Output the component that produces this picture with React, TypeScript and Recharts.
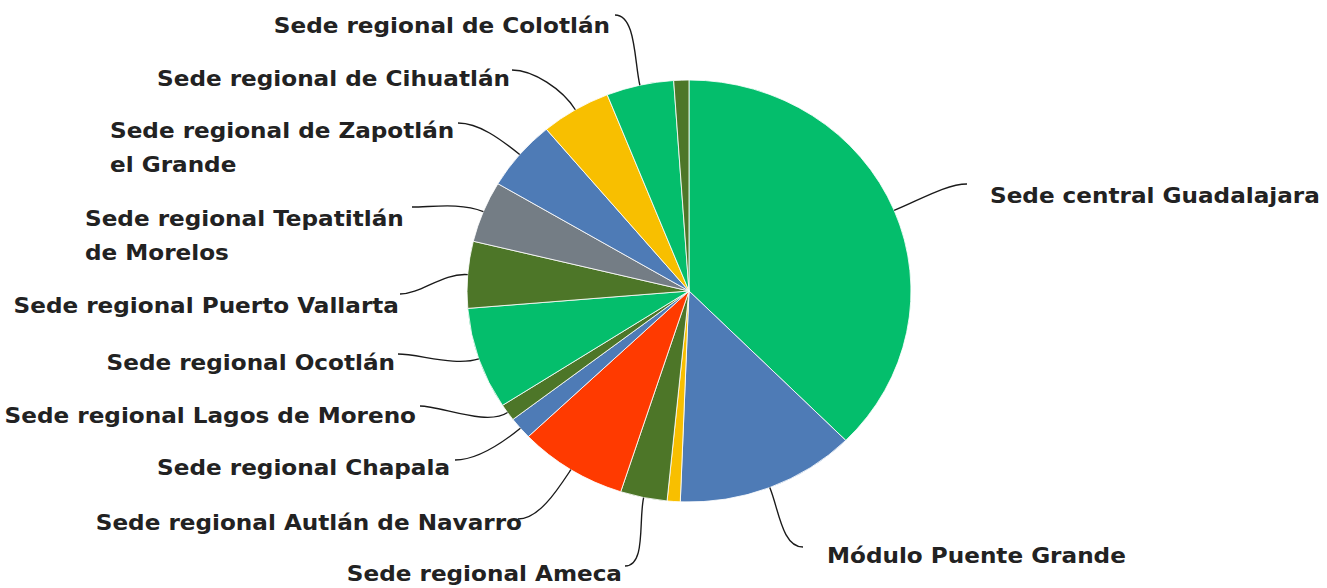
import { PieChart, Pie, Cell } from "recharts"

const sedes = [
  "Sede central Guadalajara",
  "Módulo Puente Grande",
  "Sede sin etiqueta 1",
  "Sede regional Ameca",
  "Sede regional Autlán de Navarro",
  "Sede regional Chapala",
  "Sede regional Lagos de Moreno",
  "Sede regional Ocotlán",
  "Sede regional Puerto Vallarta",
  "Sede regional Tepatitlán de Morelos",
  "Sede regional de Zapotlán el Grande",
  "Sede regional de Cihuatlán",
  "Sede regional de Colotlán",
  "Sede sin etiqueta 2",
]

const porcentajes = [37.5, 13.1, 0.95, 3.4, 7.9, 1.7, 1.3, 7.8, 5.1, 4.7, 5.4, 5.1, 4.9, 1.1]

const colores = [
  "#04BE6C", "#4E7BB6", "#F8BF00", "#4D7628", "#FF3A00", "#4E7BB6", "#4D7628",
  "#04BE6C", "#4D7628", "#747D85", "#4E7BB6", "#F8BF00", "#04BE6C", "#4D7628",
]

// the original picture is stretched horizontally
const K = 1.052
const W = 1327
const H = 588

// label placement in page pixels: text lines, text x / first line y, anchor, leader end point
const etiquetas: Record<string, { lines: string[]; x: number; y: number; anchor: "start" | "end"; lx: number; ly: number }> = {
  "Sede central Guadalajara": { lines: ["Sede central Guadalajara"], x: 990, y: 195, anchor: "start", lx: 967, ly: 184 },
  "Módulo Puente Grande": { lines: ["Módulo Puente Grande"], x: 827, y: 555, anchor: "start", lx: 803, ly: 547 },
  "Sede regional Ameca": { lines: ["Sede regional Ameca"], x: 622, y: 573, anchor: "end", lx: 625, ly: 566 },
  "Sede regional Autlán de Navarro": { lines: ["Sede regional Autlán de Navarro"], x: 522, y: 522, anchor: "end", lx: 518, ly: 519 },
  "Sede regional Chapala": { lines: ["Sede regional Chapala"], x: 450, y: 467, anchor: "end", lx: 455, ly: 460 },
  "Sede regional Lagos de Moreno": { lines: ["Sede regional Lagos de Moreno"], x: 416, y: 415, anchor: "end", lx: 420, ly: 406 },
  "Sede regional Ocotlán": { lines: ["Sede regional Ocotlán"], x: 395, y: 362, anchor: "end", lx: 398, ly: 354 },
  "Sede regional Puerto Vallarta": { lines: ["Sede regional Puerto Vallarta"], x: 399, y: 305, anchor: "end", lx: 400, ly: 294 },
  "Sede regional Tepatitlán de Morelos": { lines: ["Sede regional Tepatitlán", "de Morelos"], x: 85, y: 218, anchor: "start", lx: 412, ly: 207 },
  "Sede regional de Zapotlán el Grande": { lines: ["Sede regional de Zapotlán", "el Grande"], x: 110, y: 130, anchor: "start", lx: 458, ly: 123 },
  "Sede regional de Cihuatlán": { lines: ["Sede regional de Cihuatlán"], x: 510, y: 78, anchor: "end", lx: 512, ly: 70 },
  "Sede regional de Colotlán": { lines: ["Sede regional de Colotlán"], x: 610, y: 25, anchor: "end", lx: 615, ly: 15 },
}

const data = sedes.map((name, i) => ({ name, value: porcentajes[i] }))

const RAD = Math.PI / 180

function Etiqueta(props: any) {
  const { cx, cy, midAngle, outerRadius, name } = props
  const e = etiquetas[name]
  if (!e) return null
  const lx = e.lx / K
  const sx = cx + outerRadius * Math.cos(-midAngle * RAD)
  const sy = cy + outerRadius * Math.sin(-midAngle * RAD)
  const c1x = cx + (outerRadius + 24) * Math.cos(-midAngle * RAD)
  const c1y = cy + (outerRadius + 24) * Math.sin(-midAngle * RAD)
  const dir = lx > cx ? 1 : -1
  const c2x = lx - dir * 20
  return (
    <g>
      <path
        d={`M${sx},${sy} C${c1x},${c1y} ${c2x},${e.ly} ${lx},${e.ly}`}
        stroke="#1a1a1a"
        strokeWidth={1.3}
        fill="none"
      />
      {e.lines.map((t, k) => (
        <text
          key={k}
          x={e.x / K}
          y={e.y + k * 34}
          textAnchor={e.anchor}
          dominantBaseline="central"
          fill="#222"
          fontSize={22}
          fontWeight={700}
          fontFamily="'DejaVu Sans', sans-serif"
        >
          {t}
        </text>
      ))}
    </g>
  )
}

export default function App() {
  return (
    <div style={{ position: "absolute", left: 0, top: 0, width: W, height: H, overflow: "hidden", background: "#fff" }}>
      <div style={{ transform: `scaleX(${K})`, transformOrigin: "0 0" }}>
        <PieChart width={W / K} height={H} margin={{ top: 0, right: 0, bottom: 0, left: 0 }}>
          <Pie
            data={data}
            dataKey="value"
            nameKey="name"
            cx={689 / K}
            cy={291}
            outerRadius={211}
            startAngle={90}
            endAngle={-270}
            stroke="#fff"
            strokeWidth={0.8}
            label={Etiqueta}
            labelLine={false}
            isAnimationActive={false}
          >
            {data.map((d, i) => (
              <Cell key={d.name} fill={colores[i]} />
            ))}
          </Pie>
        </PieChart>
      </div>
    </div>
  )
}
